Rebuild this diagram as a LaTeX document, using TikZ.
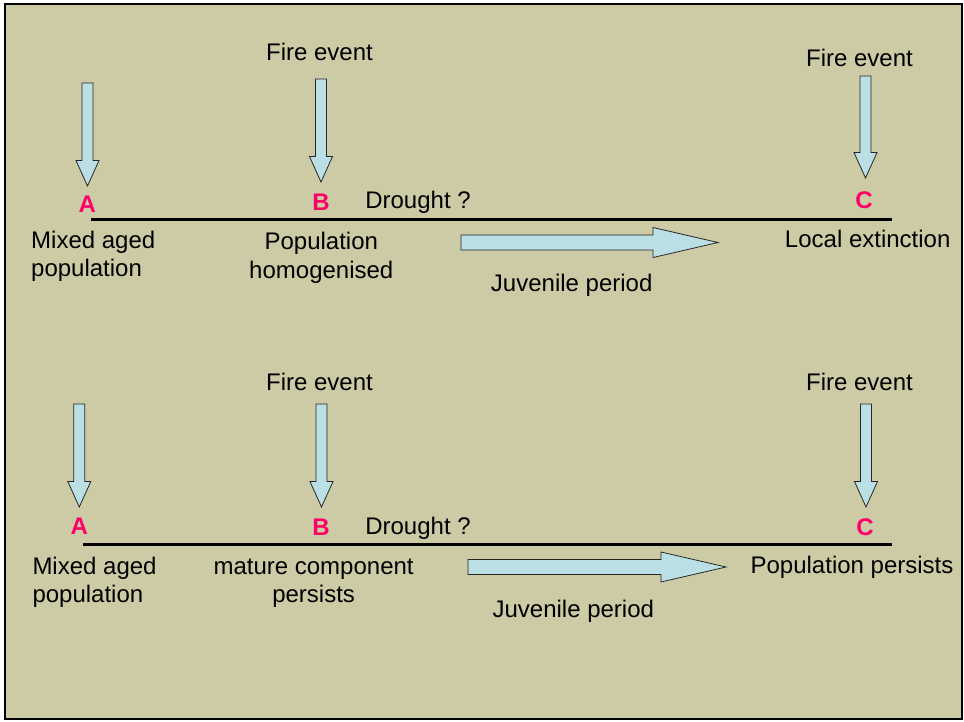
\documentclass[tikz,border=0pt]{standalone}
\usepackage{fontspec}
\setmainfont{Liberation Sans}
\usetikzlibrary{positioning,calc}

\definecolor{paper}{RGB}{205,203,165}
\definecolor{ice}{RGB}{186,223,228}
\definecolor{stagered}{RGB}{255,0,102}

% block arrows: shaft start -> tip
\newcommand{\blockdown}[2]{%
  \draw[blockarrow] ($(#1)+(-5.5,0)$) -- ($(#1)+(5.5,0)$)
    -- ($(#2)+(5.5,-25.5)$) -- ($(#2)+(11.5,-25.5)$) -- (#2)
    -- ($(#2)+(-11.5,-25.5)$) -- ($(#2)+(-5.5,-25.5)$) -- cycle;}
\newcommand{\blockright}[2]{%
  \draw[blockarrow] ($(#1)+(0,-7.5)$) -- ($(#2)+(-65,-7.5)$)
    -- ($(#2)+(-65,-15)$) -- (#2) -- ($(#2)+(-65,15)$)
    -- ($(#2)+(-65,7.5)$) -- ($(#1)+(0,7.5)$) -- cycle;}

\begin{document}
\begin{tikzpicture}[x=1pt, y=-1pt]

\tikzset{
  txt/.style={font=\fontsize{24}{28.5}\selectfont, inner sep=0pt, anchor=base},
  stagelbl/.style={font=\fontsize{24}{28}\selectfont\bfseries, text=stagered,
    inner sep=0pt, anchor=base},
  timeline/.style={line width=3pt},
  blockarrow/.style={draw=black!85, fill=ice, line width=0.8pt},
  frame/.style={draw, line width=2pt, fill=paper}
}

\useasboundingbox (0,0) rectangle (964,721);
\draw[frame] (5,4) rectangle (962,719);

% ==========================
% Top: local extinction
% ==========================
\node[stagelbl] (A1) at (87.3,212.7) {A};
\node[stagelbl] (B1) at (321,210) {B};
\node[stagelbl] (C1) at (864,208.3) {C};

\coordinate (line1s) at (91,219);
\coordinate (line1e) at (892,219);
\draw[timeline] (line1s) -- (line1e);

\node[txt] (fireB1) at (319.5,60.7) {Fire event};
\node[txt] (fireC1) at (859.5,66.7) {Fire event};
\node[txt] (drought1) at (418,208.3) {Drought ?};
% multi-line texts sit on their last baseline
\node[txt, align=left, anchor=base west] (mixed1) at (31,276.7) {Mixed aged\\population};
\node[txt, align=center] (homog) at (321.3,278.3) {Population\\homogenised};
\node[txt] (juv1) at (571.7,291.7) {Juvenile period};
\node[txt] (extinct) at (867.7,247.3) {Local extinction};

\coordinate (dA1) at (87.5,83);  \coordinate (tA1) at (87.5,186);
\coordinate (dB1) at (321,79);   \coordinate (tB1) at (321,182);
\coordinate (dC1) at (865.5,76); \coordinate (tC1) at (865.5,178);
\blockdown{dA1}{tA1}
\blockdown{dB1}{tB1}
\blockdown{dC1}{tC1}

\coordinate (juvs1) at (461,242.5);
\coordinate (juvt1) at (718,242.5);
\blockright{juvs1}{juvt1}

% ==========================
% Bottom: population persists
% ==========================
\node[stagelbl] (A2) at (79.3,534) {A};
\node[stagelbl] (B2) at (321,535) {B};
\node[stagelbl] (C2) at (865,535) {C};

\coordinate (line2s) at (83,544);
\coordinate (line2e) at (892,544);
\draw[timeline] (line2s) -- (line2e);

\node[txt] (fireB2) at (319.5,390.7) {Fire event};
\node[txt] (fireC2) at (859.5,390.7) {Fire event};
\node[txt] (drought2) at (418,534) {Drought ?};
\node[txt, align=left, anchor=base west] (mixed2) at (32.3,602.7) {Mixed aged\\population};
\node[txt, align=center] (mature) at (313.6,602.7) {mature component\\persists};
\node[txt] (juv2) at (573.3,617.3) {Juvenile period};
\node[txt] (persist) at (852,573.3) {Population persists};

\coordinate (dA2) at (79.3,404); \coordinate (tA2) at (79.3,507);
\coordinate (dB2) at (321.5,404); \coordinate (tB2) at (321.5,507);
\coordinate (dC2) at (866,404);  \coordinate (tC2) at (866,507);
\blockdown{dA2}{tA2}
\blockdown{dB2}{tB2}
\blockdown{dC2}{tC2}

\coordinate (juvs2) at (468,567);
\coordinate (juvt2) at (726,567);
\blockright{juvs2}{juvt2}

\end{tikzpicture}
\end{document}
